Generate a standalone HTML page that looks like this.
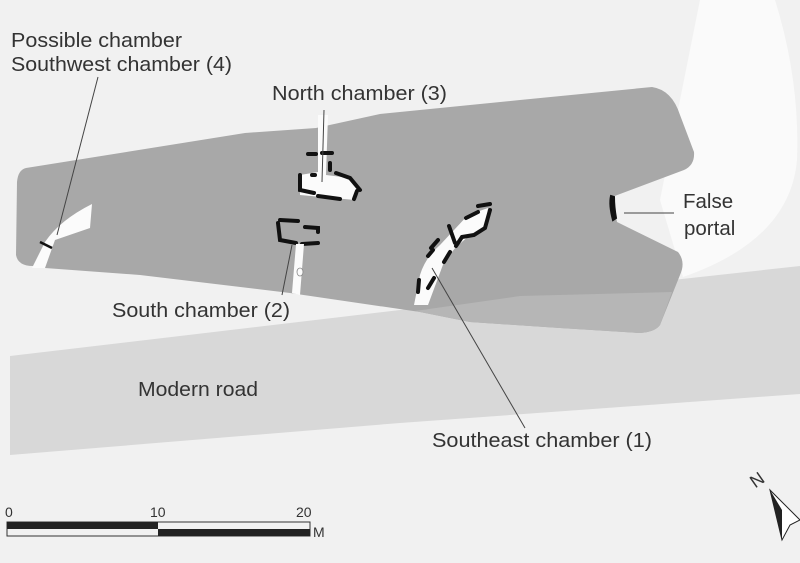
<!DOCTYPE html>
<html><head><style>
body{margin:0;background:#f2f2f2;}
svg{display:block}
text{font-family:"Liberation Sans",sans-serif;fill:#333;}
</style></head><body>
<svg width="800" height="563" viewBox="0 0 800 563">
<rect width="800" height="563" fill="#f1f1f1"/>
<path d="M700 0 L775 0 Q800 80 797 160 Q790 240 683 277 L660 200 Z" fill="#fafafa"/>
<!-- road -->
<path d="M10 356 L400 310 L800 266 L800 394 L400 423 L10 455 Z" fill="#d8d8d8"/>
<!-- mound -->
<path d="M26 168 L245 133 L316 128 L380 114 L520 100 L652 87 Q672 90 680 115 L694 152 Q695 165 684 170 L612 197 L617 222 L678 252 Q686 262 680 275 L660 325 Q655 332 640 333 L560 328 L470 322 L420 312 L290 293 L140 275 L45 268 L33 266 Q18 266 16 255 L17 182 Q18 170 26 168 Z" fill="#a8a8a8"/>
<path d="M415 311 L520 296 L672 292 L660 325 Q655 332 640 333 L560 328 L470 322 Z" fill="#b6b6b6"/>
<!-- SW chamber -->
<path d="M32 268 L45 242 Q60 220 92 204 L90 228 L55 240 L45 268 Z" fill="#fbfbfb"/>
<line x1="40" y1="242" x2="52" y2="248" stroke="#111" stroke-width="2.5"/>
<!-- North chamber -->
<path d="M318 115 L328 115 L326 175 L350 178 L360 190 L355 200 L300 195 L300 175 L318 172 Z" fill="#fbfbfb"/>
<g stroke="#111" stroke-width="4" stroke-linecap="round" fill="none">
<path d="M308 154 L316 154 M322 153 L332 153 M330 163 L330 170 M300 175 L300 190 L314 193 M318 196 L340 199 M336 173 L350 178 L360 190 M357 191 L354 199 M312 175 L315 175"/>
<path d="M280 220 L298 221 M278 223 L280 240 L296 243 M305 227 L318 228 L318 232 M302 244 L318 243 M298 251 L298 258"/>
</g>
<path d="M296 244 L304 244 L300 295 L292 293 Z" fill="#fbfbfb"/>
<ellipse cx="300" cy="272" rx="3" ry="4" fill="#fbfbfb" stroke="#888" stroke-width="0.8"/>
<path d="M414 305 L420 275 Q425 258 440 245 L468 215 L488 208 L486 225 L470 235 L456 247 L444 262 L428 305 Z" fill="#fbfbfb"/>
<g stroke="#111" stroke-width="4" stroke-linecap="round" fill="none">
<path d="M478 206 L490 204 M490 210 L485 228 L474 235 L462 237 L456 246 M450 252 L444 262 M466 218 L478 212 M449 226 L455 243 M431 248 L438 240 M428 256 L433 250 M434 278 L428 288 M419 280 L418 292"/>
</g>
<!-- false portal -->
<path d="M611 196 Q609 205 613 220 L616 218 Q614 207 614 197 Z" fill="#111" stroke="#111" stroke-width="2"/>
<!-- leader lines -->
<g stroke="#444" stroke-width="1">
<line x1="98" y1="77" x2="57" y2="235"/>
<line x1="324" y1="110" x2="322" y2="182"/>
<line x1="282" y1="295" x2="292" y2="245"/>
<line x1="525" y1="428" x2="432" y2="268"/>
<line x1="624" y1="213" x2="674" y2="213"/>
</g>
<g font-size="20.5">
<text x="11" y="47" textLength="171" lengthAdjust="spacingAndGlyphs">Possible chamber</text>
<text x="11" y="71" textLength="221" lengthAdjust="spacingAndGlyphs">Southwest chamber (4)</text>
<text x="272" y="100" textLength="175" lengthAdjust="spacingAndGlyphs">North chamber (3)</text>
<text x="112" y="317" textLength="178" lengthAdjust="spacingAndGlyphs">South chamber (2)</text>
<text x="138" y="396" textLength="120" lengthAdjust="spacingAndGlyphs">Modern road</text>
<text x="432" y="447" textLength="220" lengthAdjust="spacingAndGlyphs">Southeast chamber (1)</text>
<text x="683" y="208">False</text>
<text x="684" y="235">portal</text>
</g>
<!-- scale -->
<g font-size="14">
<text x="5" y="517">0</text><text x="150" y="517">10</text><text x="296" y="517">20</text>
</g>
<rect x="7" y="522" width="303" height="14" fill="none" stroke="#333" stroke-width="1"/>
<rect x="7" y="522" width="151" height="7" fill="#222"/>
<rect x="158" y="529" width="152" height="7" fill="#222"/>
<text x="313" y="537" font-size="14">M</text>
<!-- north arrow -->
<text x="750" y="484" font-size="18" transform="rotate(-35 760 478)">N</text>
<path d="M770 490 L800 520 L790 525 L782 540 Z" fill="#fff" stroke="#222" stroke-width="1"/>
<path d="M770 490 L782 510 L782 540 L776 515 Z" fill="#222"/>
</svg>
</body></html>
